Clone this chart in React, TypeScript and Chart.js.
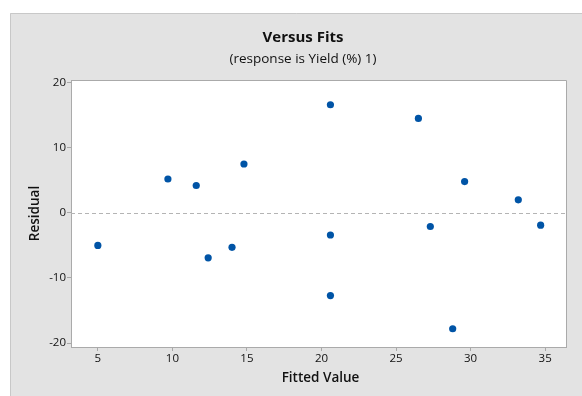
import React, { useEffect, useRef } from "react";
import { Chart, registerables } from "chart.js";

Chart.register(...registerables);

const fittedValues = [5.0, 9.7, 11.6, 14.8, 12.4, 14.0, 20.6, 20.6, 20.6, 26.5, 27.3, 29.6, 28.8, 33.2, 34.7];
const residuals = [-5.0, 5.2, 4.2, 7.5, -6.9, -5.3, 16.6, -3.4, -12.7, 14.5, -2.1, 4.8, -17.8, 2.0, -1.9];
const xTickValues = [5, 10, 15, 20, 25, 30, 35];
const yTickValues = [-20, -10, 0, 10, 20];
const chartTitle = "Versus Fits";
const chartSubtitle = "(response is Yield (%) 1)";
const xAxisTitle = "Fitted Value";
const yAxisTitle = "Residual";

const FONT = "'Open Sans', 'DejaVu Sans', sans-serif";

export default function App() {
  const ref = useRef<HTMLCanvasElement | null>(null);

  useEffect(() => {
    const canvas = ref.current;
    if (!canvas) return;

    const decor = {
      id: "decor",
      beforeDraw(chart: any) {
        const { ctx, chartArea } = chart;
        ctx.save();
        ctx.fillStyle = "#ffffff";
        ctx.fillRect(0, 0, chart.width, chart.height);
        ctx.fillStyle = "#e3e3e3";
        ctx.fillRect(10, 13, chart.width, chart.height);
        ctx.strokeStyle = "#c8c8c8";
        ctx.lineWidth = 1;
        ctx.beginPath();
        ctx.moveTo(10.5, chart.height);
        ctx.lineTo(10.5, 13.5);
        ctx.lineTo(chart.width, 13.5);
        ctx.stroke();
        ctx.fillStyle = "#ffffff";
        ctx.fillRect(chartArea.left, chartArea.top, chartArea.right - chartArea.left, chartArea.bottom - chartArea.top);
        ctx.restore();
      },
      beforeDatasetsDraw(chart: any) {
        const { ctx, chartArea, scales } = chart;
        const y0 = Math.round(scales.y.getPixelForValue(0)) + 0.5;
        ctx.save();
        ctx.strokeStyle = "#b4b4b4";
        ctx.lineWidth = 1;
        ctx.setLineDash([4, 3]);
        ctx.beginPath();
        ctx.moveTo(chartArea.left, y0);
        ctx.lineTo(chartArea.right, y0);
        ctx.stroke();
        ctx.setLineDash([]);
        ctx.strokeStyle = "#aaaaaa";
        ctx.beginPath();
        ctx.moveTo(chartArea.left, chartArea.top + 0.5);
        ctx.lineTo(chartArea.right + 0.5, chartArea.top + 0.5);
        ctx.lineTo(chartArea.right + 0.5, chartArea.bottom);
        ctx.stroke();
        ctx.restore();
      },
      afterDraw(chart: any) {
        const { ctx, chartArea } = chart;
        ctx.save();
        ctx.fillStyle = "#111111";
        ctx.textAlign = "center";
        ctx.textBaseline = "middle";
        ctx.font = `bold 15px ${FONT}`;
        ctx.fillText(chartTitle, 303, 38);
        ctx.font = `13.5px ${FONT}`;
        ctx.fillText(chartSubtitle, 303, 59);
        ctx.font = `600 13.5px ${FONT}`;
        ctx.fillText(xAxisTitle, (chartArea.left + chartArea.right) / 2 + 2, 378);
        ctx.translate(35, (chartArea.top + chartArea.bottom) / 2);
        ctx.rotate(-Math.PI / 2);
        ctx.fillText(yAxisTitle, 0, 0);
        ctx.restore();
      },
    };

    const chart = new Chart(canvas, {
      type: "scatter",
      data: {
        datasets: [
          {
            data: fittedValues.map((x, i) => ({ x, y: residuals[i] })),
            backgroundColor: "#0054a6",
            borderWidth: 0,
            pointRadius: 3.6,
            pointHoverRadius: 3.6,
          },
        ],
      },
      options: {
        responsive: false,
        animation: false,
        devicePixelRatio: 1,
        layout: { padding: { left: 0, top: 80, right: 16, bottom: 0 } },
        plugins: { legend: { display: false }, tooltip: { enabled: false }, title: { display: false } },
        scales: {
          x: {
            type: "linear",
            min: 3.2,
            max: 36.4,
            afterFit: (s: any) => {
              s.height = 49;
            },
            afterBuildTicks: (s: any) => {
              s.ticks = xTickValues.map((v) => ({ value: v }));
            },
            grid: { drawOnChartArea: false, drawTicks: true, tickLength: 4, color: "#a8a8a8" },
            border: { display: true, color: "#aaaaaa" },
            ticks: {
              padding: 1,
              color: "#111111",
              font: { family: FONT, size: 11.5 },
              maxRotation: 0,
              callback: (v: any) => String(v),
            },
          },
          y: {
            type: "linear",
            min: -20.6,
            max: 20.4,
            afterFit: (s: any) => {
              s.width = 71;
            },
            afterBuildTicks: (s: any) => {
              s.ticks = yTickValues.map((v) => ({ value: v }));
            },
            grid: { drawOnChartArea: false, drawTicks: true, tickLength: 4, color: "#a8a8a8" },
            border: { display: true, color: "#aaaaaa" },
            ticks: {
              padding: 1,
              color: "#111111",
              font: { family: FONT, size: 11.5 },
              callback: (v: any) => String(v),
            },
          },
        },
      },
      plugins: [decor],
    });

    return () => chart.destroy();
  }, []);

  return (
    <div style={{ position: "fixed", left: 0, top: 0, width: 582, height: 396 }}>
      <canvas ref={ref} width={582} height={396} style={{ display: "block" }} />
    </div>
  );
}
